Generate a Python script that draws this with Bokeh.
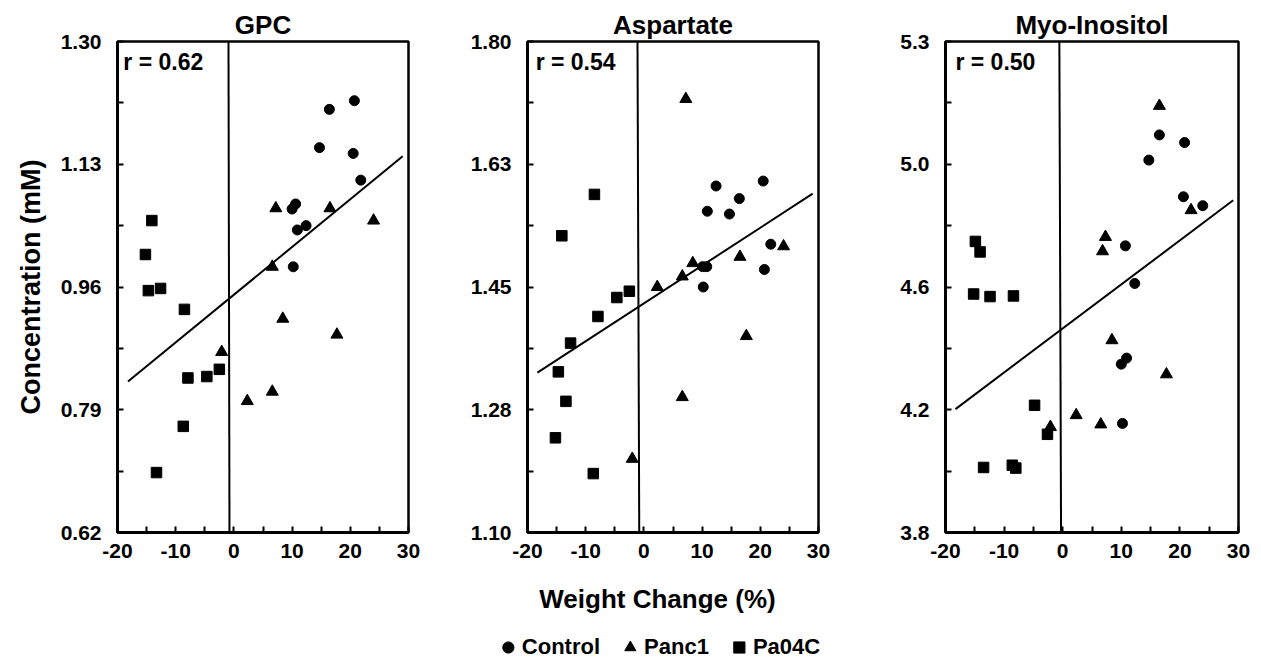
from bokeh.plotting import figure
from bokeh.models import Range1d, FixedTicker, Label, Legend, LegendItem
from bokeh.layouts import row, column
from bokeh.embed import file_html
from bokeh.resources import INLINE

FONT = "Liberation Sans"

# ---------------- data ----------------
titles = ["GPC", "Aspartate", "Myo-Inositol"]
r_texts = ["r =  0.62", "r = 0.54", "r = 0.50"]
series_names = ["Control", "Panc1", "Pa04C"]

x_ticks = [-20, -10, 0, 10, 20, 30]
x_tick_labels = ["-20", "-10", "0", "10", "20", "30"]
x_minor_ticks = [-15, -5, 5, 15, 25]
x_limits = (-20, 30)

y_limits = [(0.62, 1.30), (1.10, 1.80), (3.80, 5.34)]
y_tick_labels = [
    ["0.62", "0.79", "0.96", "1.13", "1.30"],
    ["1.10", "1.28", "1.45", "1.63", "1.80"],
    ["3.8", "4.2", "4.6", "5.0", "5.3"],
]

# GPC
gpc_control_x = [20.7, 16.4, 14.7, 20.5, 21.8, 10.6, 10.0, 12.4, 10.9, 10.2]
gpc_control_y = [1.218, 1.206, 1.153, 1.145, 1.108, 1.075, 1.068, 1.045, 1.039, 0.988]
gpc_panc1_x = [7.2, 16.5, 24.0, 6.6, 8.4, 17.7, -2.1, 6.6, 2.3]
gpc_panc1_y = [1.069, 1.069, 1.052, 0.988, 0.916, 0.894, 0.870, 0.815, 0.802]
gpc_pa04c_x = [-14.1, -15.2, -14.7, -12.6, -8.5, -7.9, -4.65, -2.5, -8.7, -13.3]
gpc_pa04c_y = [1.052, 1.005, 0.955, 0.958, 0.929, 0.834, 0.836, 0.846, 0.767, 0.703]
gpc_fit_x = [-18.2, 29.0]
gpc_fit_y = [0.829, 1.141]
gpc_zero_x = [-0.76, -0.93]   # bottom, top

# Aspartate
asp_control_x = [20.5, 12.4, 16.4, 10.9, 14.7, 21.8, 20.7, 10.1, 10.8, 10.2]
asp_control_y = [1.601, 1.594, 1.576, 1.558, 1.554, 1.511, 1.475, 1.479, 1.479, 1.450]
asp_panc1_x = [7.2, 8.4, 16.5, 24.0, 6.6, 2.3, 17.6, 6.6, -2.0]
asp_panc1_y = [1.718, 1.484, 1.493, 1.508, 1.465, 1.450, 1.380, 1.293, 1.205]
asp_pa04c_x = [-8.5, -14.1, -2.5, -4.65, -7.9, -12.6, -14.7, -13.4, -15.2, -8.7]
asp_pa04c_y = [1.582, 1.523, 1.444, 1.435, 1.408, 1.370, 1.329, 1.287, 1.235, 1.184]
asp_fit_x = [-18.3, 29.0]
asp_fit_y = [1.328, 1.583]
asp_zero_x = [-0.8, -1.1]

# Myo-Inositol
myo_control_x = [16.5, 20.8, 14.7, 20.6, 23.9, 10.7, 12.3, 10.9, 10.0, 10.2]
myo_control_y = [5.047, 5.023, 4.968, 4.853, 4.825, 4.699, 4.581, 4.347, 4.328, 4.142]
myo_panc1_x = [16.5, 21.9, 7.3, 6.8, 8.4, 17.7, 2.3, 6.5, -2.1]
myo_panc1_y = [5.138, 4.811, 4.727, 4.682, 4.403, 4.296, 4.168, 4.139, 4.131]
myo_pa04c_x = [-14.9, -14.1, -15.2, -12.4, -8.4, -4.8, -2.6, -13.5, -8.6, -8.0]
myo_pa04c_y = [4.713, 4.680, 4.548, 4.540, 4.542, 4.199, 4.108, 4.004, 4.011, 4.002]
myo_fit_x = [-18.3, 29.1]
myo_fit_y = [4.187, 4.842]
myo_zero_x = [-0.28, -0.57]

panels = [
    dict(control=(gpc_control_x, gpc_control_y), panc1=(gpc_panc1_x, gpc_panc1_y),
         pa04c=(gpc_pa04c_x, gpc_pa04c_y), fit=(gpc_fit_x, gpc_fit_y), zero=gpc_zero_x),
    dict(control=(asp_control_x, asp_control_y), panc1=(asp_panc1_x, asp_panc1_y),
         pa04c=(asp_pa04c_x, asp_pa04c_y), fit=(asp_fit_x, asp_fit_y), zero=asp_zero_x),
    dict(control=(myo_control_x, myo_control_y), panc1=(myo_panc1_x, myo_panc1_y),
         pa04c=(myo_pa04c_x, myo_pa04c_y), fit=(myo_fit_x, myo_fit_y), zero=myo_zero_x),
]

# ---------------- layout ----------------
frame_w = [291, 291, 293]
border_l = [117, 107, 107]
border_r = [12, 20, 15]
r_dx = [1.0, 1.4, 1.7]
FRAME_H = 491

figs = []
for i, d in enumerate(panels):
    y0, y1 = y_limits[i]
    p = figure(frame_width=frame_w[i], frame_height=FRAME_H,
               min_border_left=border_l[i], min_border_right=border_r[i],
               min_border_top=41, min_border_bottom=40,
               x_range=Range1d(*x_limits), y_range=Range1d(y0, y1),
               output_backend="svg", toolbar_location=None, title=titles[i])
    p.title.align = "center"
    p.title.text_font = FONT
    p.title.text_font_size = "26px"
    p.title.text_font_style = "bold"
    p.title.text_color = "black"
    p.title.standoff = 3

    p.xgrid.grid_line_color = None
    p.ygrid.grid_line_color = None
    p.outline_line_color = "black"
    p.outline_line_width = 2.5
    p.background_fill_color = "white"
    p.border_fill_color = "white"

    yt = [y0 + k * (y1 - y0) / 4 for k in range(5)]
    ym = [y0 + (k + 0.5) * (y1 - y0) / 4 for k in range(4)]
    p.yaxis.ticker = FixedTicker(ticks=yt, minor_ticks=ym)
    p.yaxis.major_label_overrides = {t: lab for t, lab in zip(yt, y_tick_labels[i])}
    p.xaxis.ticker = FixedTicker(ticks=x_ticks, minor_ticks=x_minor_ticks)
    p.xaxis.major_label_overrides = {t: lab for t, lab in zip(x_ticks, x_tick_labels)}

    for ax in (p.xaxis[0], p.yaxis[0]):
        ax.axis_line_width = 3
        ax.axis_line_color = "black"
        ax.major_tick_in = 6
        ax.major_tick_out = 0
        ax.minor_tick_in = 6
        ax.minor_tick_out = 0
        ax.major_tick_line_width = 2
        ax.minor_tick_line_width = 2
        ax.major_tick_line_color = "black"
        ax.minor_tick_line_color = "black"
        ax.major_label_text_font = FONT
        ax.major_label_text_font_size = "21px"
        ax.major_label_text_font_style = "bold"
        ax.major_label_text_color = "black"
    p.xaxis.major_label_standoff = 11
    p.yaxis.major_label_standoff = 16

    if i == 0:
        p.yaxis.axis_label = "Concentration (mM)"
        p.yaxis.axis_label_text_font = FONT
        p.yaxis.axis_label_text_font_size = "27px"
        p.yaxis.axis_label_text_font_style = "bold"
        p.yaxis.axis_label_text_color = "black"
        p.yaxis.axis_label_standoff = 12

    # vertical zero line
    p.line(d["zero"], [y0, y1], line_color="black", line_width=2)
    # trend line
    p.line(d["fit"][0], d["fit"][1], line_color="black", line_width=2)
    # points
    p.scatter(d["control"][0], d["control"][1], marker="circle", size=10,
              fill_color="black", line_color="black")
    p.scatter(d["panc1"][0], d["panc1"][1], marker="triangle", size=12,
              fill_color="black", line_color="black")
    p.scatter(d["pa04c"][0], d["pa04c"][1], marker="square", size=10.5,
              fill_color="black", line_color="black")

    p.add_layout(Label(x=x_limits[0] + r_dx[i], y=y1 - (20 / FRAME_H) * (y1 - y0),
                       text=r_texts[i], text_font=FONT, text_font_size="23px",
                       text_font_style="bold", text_color="black",
                       text_align="left", text_baseline="middle"))
    figs.append(p)

# bottom strip: x label and legend
f4 = figure(frame_width=1098, frame_height=89, min_border_left=108, min_border_right=0,
            min_border_top=0, min_border_bottom=0,
            x_range=Range1d(0, 1), y_range=Range1d(0, 89),
            x_axis_type=None, y_axis_type=None, outline_line_color=None,
            output_backend="svg", toolbar_location=None)
f4.add_layout(Label(x=0.5, y=63, text="Weight Change (%)", text_font=FONT,
                    text_font_size="26px", text_font_style="bold", text_color="black",
                    text_align="center", text_baseline="middle"))
# legend-only renderers (placed outside the visible range)
rc = f4.scatter(x=[-50], y=[-50], marker="circle", size=10, fill_color="black", line_color="black")
rt = f4.scatter(x=[-50], y=[-50], marker="triangle", size=12, fill_color="black", line_color="black")
rs = f4.scatter(x=[-50], y=[-50], marker="square", size=10, fill_color="black", line_color="black")
legend = Legend(items=[LegendItem(label=series_names[0], renderers=[rc]),
                       LegendItem(label=series_names[1], renderers=[rt]),
                       LegendItem(label=series_names[2], renderers=[rs])],
                orientation="horizontal", location="bottom_center",
                glyph_width=28, glyph_height=28, label_standoff=0, spacing=16,
                padding=0, margin=0, border_line_color=None, background_fill_alpha=0,
                label_text_font=FONT, label_text_font_size="22px",
                label_text_font_style="bold", label_text_color="black")
f4.add_layout(legend)

layout = column(row(*figs), f4)
open("out.html", "w").write(file_html(layout, INLINE))
